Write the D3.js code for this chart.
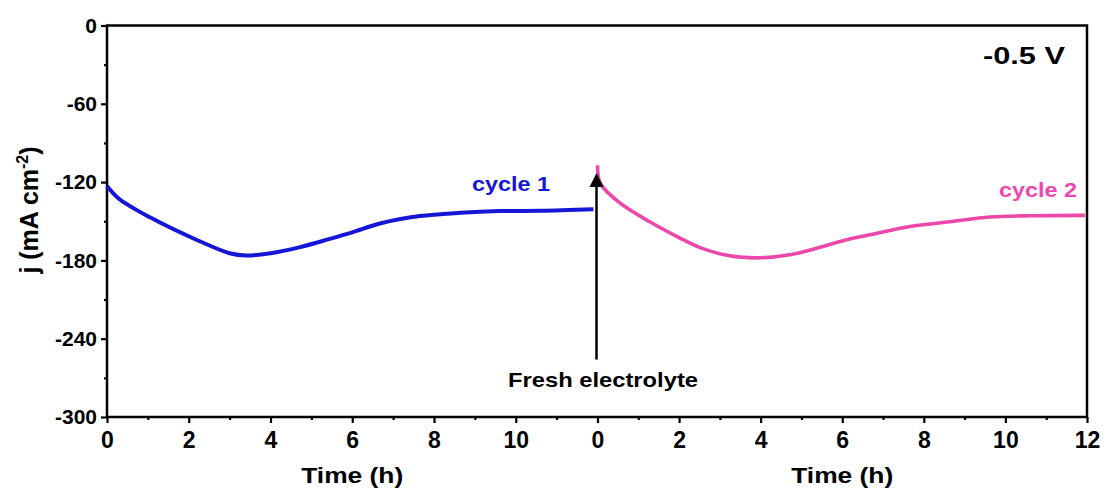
<!DOCTYPE html>
<html>
<head>
<meta charset="utf-8">
<script src="https://cdn.jsdelivr.net/npm/d3@7"></script>
<style>
  html, body { margin: 0; padding: 0; background: #fff; }
  svg { display: block; font-family: "Liberation Sans", Arial, sans-serif; font-weight: bold; }
</style>
</head>
<body>
<svg id="chart" width="1107" height="497"></svg>
<script>
// Chronoamperometry at -0.5 V: two 12 h cycles, electrolyte refreshed between them
const cycle1Time    = [0, 0.3, 1.05, 2.28, 3.0, 3.4, 4.0, 4.7, 5.45, 6.0, 6.7, 7.65, 8.65, 9.6, 10.6, 11.9];
const cycle1Current = [-123, -133, -147, -165.5, -174.5, -176.3, -174.5, -170, -163.5, -158.5, -151.5, -146, -143.5, -142.2, -142, -140.8];

const cycle2Time    = [0, 0.07, 0.54, 1.28, 2.01, 2.5, 3.24, 3.98, 4.71, 5.45, 6.06, 6.67, 7.66, 8.64, 9.62, 10.6, 11.95];
const cycle2Current = [-107, -121, -135.8, -150.4, -162.7, -170, -176.5, -178, -175.7, -170, -164.5, -160.4, -154, -150.4, -146.8, -145.8, -145.5];

const yTicks       = [0, -60, -120, -180, -240, -300];
const yMinorTicks  = [-30, -90, -150, -210, -270];
const xTicksCycle1 = [0, 2, 4, 6, 8, 10];
const xTicksCycle2 = [0, 2, 4, 6, 8, 10, 12];
const xMinorTicks  = [1, 3, 5, 7, 9, 11];

const seriesLabels = ["cycle 1", "cycle 2"];
const seriesColors = ["#1616d6", "#ec47ab"];
const potentialLabel = "-0.5 V";
const annotationText = "Fresh electrolyte";
const arrowCurrent = [-256, -113];   // tail and head of the refresh marker
const xTitle = "Time (h)";

const svg = d3.select("#chart");
const plotLeft = 107, plotMid = 597.5, plotRight = 1087, plotTop = 25.5, plotBottom = 417;

const x1 = d3.scaleLinear().domain([0, 12]).range([plotLeft, plotMid]);
const x2 = d3.scaleLinear().domain([0, 12]).range([plotMid, plotRight]);
const y  = d3.scaleLinear().domain([-300, 0]).range([plotBottom, plotTop]);

// plot frame
svg.append("rect")
  .attr("x", plotLeft).attr("y", plotTop)
  .attr("width", plotRight - plotLeft).attr("height", plotBottom - plotTop)
  .attr("fill", "none").attr("stroke", "#000").attr("stroke-width", 2.5);

function styleAxis(g, fontSize) {
  g.select(".domain").remove();
  g.selectAll(".tick line").attr("stroke", "#000").attr("stroke-width", 2.2);
  g.selectAll(".tick text").attr("fill", "#000")
    .attr("font-size", fontSize).attr("font-weight", "bold")
    .attr("font-family", '"Liberation Sans", Arial, sans-serif');
}
const plainNumber = d => String(d);

// y axis
svg.append("g").attr("transform", `translate(${plotLeft},0)`)
  .call(d3.axisLeft(y).tickValues(yTicks).tickSize(6).tickPadding(4).tickFormat(plainNumber))
  .call(g => styleAxis(g, 21));
svg.append("g").attr("transform", `translate(${plotLeft},0)`)
  .call(d3.axisLeft(y).tickValues(yMinorTicks).tickSize(3).tickFormat(""))
  .call(g => styleAxis(g, 21));

// x axes, one per cycle
[[x1, xTicksCycle1], [x2, xTicksCycle2]].forEach(([xs, ticks]) => {
  svg.append("g").attr("transform", `translate(0,${plotBottom})`)
    .call(d3.axisBottom(xs).tickValues(ticks).tickSize(6).tickPadding(9).tickFormat(plainNumber))
    .call(g => styleAxis(g, 23));
  svg.append("g").attr("transform", `translate(0,${plotBottom})`)
    .call(d3.axisBottom(xs).tickValues(xMinorTicks).tickSize(3).tickFormat(""))
    .call(g => styleAxis(g, 23));
});

// x titles
[x1, x2].forEach(xs => {
  svg.append("text")
    .attr("x", (xs.range()[0] + xs.range()[1]) / 2).attr("y", 483)
    .attr("text-anchor", "middle").attr("font-size", 22)
    .attr("textLength", 102).attr("lengthAdjust", "spacingAndGlyphs")
    .text(xTitle);
});

// y title
const yt = svg.append("text")
  .attr("transform", "translate(38,210) rotate(-90)")
  .attr("text-anchor", "middle").attr("font-size", 25);
yt.append("tspan").text("j (mA cm");
yt.append("tspan").attr("font-size", 16).attr("dy", -10).text("-2");
yt.append("tspan").attr("dy", 10).text(")");

// series
const line = xs => d3.line().x(d => xs(d[0])).y(d => y(d[1])).curve(d3.curveCatmullRom.alpha(0.5));
const cycle1 = cycle1Time.map((t, i) => [t, cycle1Current[i]]);
const cycle2 = cycle2Time.map((t, i) => [t, cycle2Current[i]]);

svg.append("path").datum(cycle1).attr("d", line(x1))
  .attr("fill", "none").attr("stroke", seriesColors[0]).attr("stroke-width", 4)
  .attr("stroke-linejoin", "round");
svg.append("path").datum(cycle2).attr("d", line(x2))
  .attr("fill", "none").attr("stroke", seriesColors[1]).attr("stroke-width", 3.6)
  .attr("stroke-linejoin", "round");

// series labels
svg.append("text").attr("x", 472).attr("y", 191).attr("font-size", 21)
  .attr("fill", seriesColors[0])
  .attr("textLength", 78).attr("lengthAdjust", "spacingAndGlyphs")
  .text(seriesLabels[0]);
svg.append("text").attr("x", 999).attr("y", 197).attr("font-size", 21)
  .attr("fill", seriesColors[1])
  .attr("textLength", 78).attr("lengthAdjust", "spacingAndGlyphs")
  .text(seriesLabels[1]);

// potential label
svg.append("text").attr("x", 983).attr("y", 64).attr("font-size", 24)
  .attr("textLength", 82).attr("lengthAdjust", "spacingAndGlyphs")
  .text(potentialLabel);

// refresh marker arrow
const ax = x2(0) - 1;
const tailY = y(arrowCurrent[0]), headY = y(arrowCurrent[1]);
svg.append("line").attr("x1", ax).attr("x2", ax).attr("y1", tailY).attr("y2", headY + 12)
  .attr("stroke", "#000").attr("stroke-width", 2.5);
svg.append("path")
  .attr("d", `M${ax},${headY} L${ax - 7},${headY + 14} L${ax + 7},${headY + 14} Z`)
  .attr("fill", "#000");
svg.append("text").attr("x", 508).attr("y", 387).attr("font-size", 21)
  .attr("textLength", 190).attr("lengthAdjust", "spacingAndGlyphs")
  .text(annotationText);
</script>
</body>
</html>
